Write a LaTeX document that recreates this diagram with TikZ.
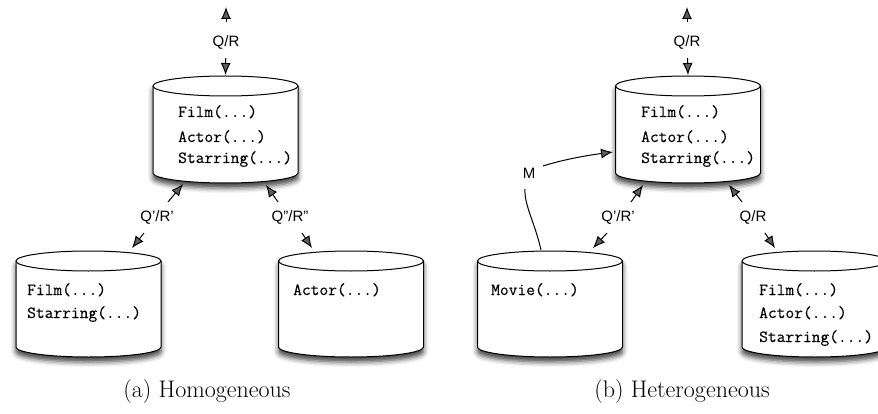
\documentclass[tikz,border=0pt]{standalone}
\usepackage{fontspec}
\setsansfont{Liberation Sans}
\newfontfamily\codefont[FakeBold=0.35]{Latin Modern Mono}
\usetikzlibrary{arrows.meta,shadows.blur}
\tikzset{
  cyl/.style={draw=black, line width=1pt, fill=white,
    blur shadow={shadow xshift=0pt, shadow yshift=-5pt, shadow blur radius=5pt, shadow opacity=75}},
  arr/.style={line width=1pt, -{Latex[length=12pt,width=10pt]}},
  lbl/.style={font=\sffamily\fontsize{15}{17}\selectfont, inner sep=1pt},
  code/.style={font=\codefont\fontsize{17}{19}\selectfont, anchor=base west, inner sep=0pt},
  capt/.style={font=\rmfamily\fontsize{24}{28}\selectfont, inner sep=0pt}
}
\newcommand\dbcyl[4]{%
  \path[cyl] (#2-72.5,#3) -- (#2-72.5,#4)
    arc[start angle=180,end angle=360,x radius=72.5pt,y radius=10pt]
    -- (#2+72.5,#3)
    arc[start angle=0,end angle=180,x radius=72.5pt,y radius=10pt] -- cycle;
  \draw[line width=1pt] (#2-72.5,#3) arc[start angle=180,end angle=360,x radius=72.5pt,y radius=10pt];
  \coordinate (#1) at (#2,#3);
  \coordinate (#1-t) at (#2,#3+11);
}
\begin{document}
\begin{tikzpicture}[x=1pt,y=1pt]
\useasboundingbox (0,0) rectangle (878,413);
% ---------- (a) ----------
\dbcyl{A}{225.5}{327}{240}
\dbcyl{B}{88.5}{152}{66}
\dbcyl{C}{351}{152}{66}
\node[code] (a1) at (178,296) {Film(...)};
\node[code] (a2) at (178,271) {Actor(...)};
\node[code] (a3) at (178,250) {Starring(...)};
\node[code] (b1) at (27,118) {Film(...)};
\node[code] (b2) at (27,95) {Starring(...)};
\node[code] (c1) at (293,118) {Actor(...)};
\node[lbl] (aQR) at (226,371) {Q/R};
\coordinate (aUp) at (226,406);
\draw[arr, shorten <=12pt] (aQR) -- (aUp);
\draw[arr, shorten <=8pt] (aQR) -- (A-t);
\node[lbl] (aQ1) at (157,196) {Q'/R'};
\coordinate (aQ1a) at (168,211); \coordinate (aQ1b) at (183,229);
\coordinate (aQ1c) at (144,180); \coordinate (aQ1d) at (132,165);
\draw[arr] (aQ1a) -- (aQ1b);
\draw[arr] (aQ1c) -- (aQ1d);
\node[lbl] (aQ2) at (290,196) {Q''/R''};
\coordinate (aQ2a) at (278,211); \coordinate (aQ2b) at (266,228);
\coordinate (aQ2c) at (302,180); \coordinate (aQ2d) at (312,165);
\draw[arr] (aQ2a) -- (aQ2b);
\draw[arr] (aQ2c) -- (aQ2d);
\node[capt] (capa) at (207,21) {(a) Homogeneous};
% ---------- (b) ----------
\dbcyl{D}{688}{327}{240}
\dbcyl{E}{550}{152}{66}
\dbcyl{F}{814.5}{152}{66}
\node[code] (d1) at (641,296) {Film(...)};
\node[code] (d2) at (641,271) {Actor(...)};
\node[code] (d3) at (641,250) {Starring(...)};
\node[code] (e1) at (491,118) {Movie(...)};
\node[code] (f1) at (759,118) {Film(...)};
\node[code] (f2) at (759,95) {Actor(...)};
\node[code] (f3) at (759,71) {Starring(...)};
\node[lbl] (dQR) at (687,371) {Q/R};
\coordinate (dUp) at (687,406);
\draw[arr, shorten <=12pt] (dQR) -- (dUp);
\draw[arr, shorten <=8pt] (dQR) -- (D-t);
\node[lbl] (dQ1) at (618,196) {Q'/R'};
\coordinate (dQ1a) at (631,211); \coordinate (dQ1b) at (643,228);
\coordinate (dQ1c) at (607,180); \coordinate (dQ1d) at (593,165);
\draw[arr] (dQ1a) -- (dQ1b);
\draw[arr] (dQ1c) -- (dQ1d);
\node[lbl] (dQ2) at (753,196) {Q/R};
\coordinate (dQ2a) at (742,211); \coordinate (dQ2b) at (729,228);
\coordinate (dQ2c) at (765,180); \coordinate (dQ2d) at (775,165);
\draw[arr] (dQ2a) -- (dQ2b);
\draw[arr] (dQ2c) -- (dQ2d);
\node[lbl, inner sep=0pt] (M) at (529,240) {M};
\coordinate (Mfrom) at (541,163);
\coordinate (Mlo) at (525,224);
\coordinate (Mhi) at (543,247);
\coordinate (Mtip) at (613,261);
\draw[line width=1pt] (Mfrom) .. controls (535,190) and (524,208) .. (Mlo);
\draw[arr] (Mhi) .. controls (565,254) and (590,258) .. (Mtip);
\node[capt] (capb) at (682,21) {(b) Heterogeneous};
\end{tikzpicture}
\end{document}
